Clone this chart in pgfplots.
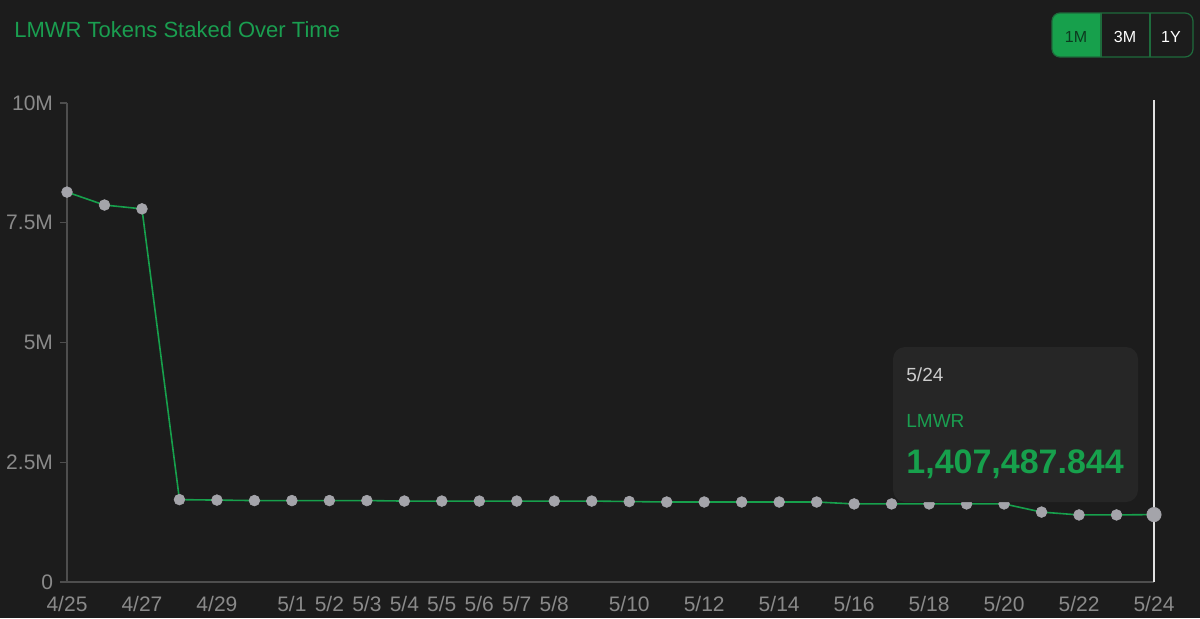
\documentclass[border=0pt]{standalone}
\usepackage{pgfplots}
\pgfplotsset{compat=1.18}
\usepackage{fontspec}
\setmainfont{Liberation Sans}
\definecolor{bg}{HTML}{1C1C1C}
\definecolor{tipbg}{HTML}{262626}
\definecolor{lmgreen}{HTML}{1A9E50}
\definecolor{linegreen}{HTML}{17A04C}
\definecolor{dotgrey}{HTML}{A4A4AA}
\definecolor{axisgrey}{HTML}{4E4E4E}
\definecolor{labelgrey}{HTML}{8A8A8A}
\definecolor{btnborder}{HTML}{1E6B3C}
\definecolor{btntext}{HTML}{0C3A1F}

\begin{document}
\begin{tikzpicture}[x=0.5pt,y=0.5pt]
\fill[bg] (0,0) rectangle (1200,618);
\useasboundingbox (0,0) rectangle (1200,618);

% title
\node[anchor=base west, inner sep=0, text=lmgreen, font=\fontsize{11}{13}\selectfont]
  at (14,581) {LMWR Tokens Staked Over Time};

% range buttons
\begin{scope}
  \clip[rounded corners=4pt] (1052,561) rectangle (1193,605);
  \fill[linegreen] (1052,561) rectangle (1101,605);
\end{scope}
\draw[btnborder, line width=0.6pt, rounded corners=4pt] (1052,561) rectangle (1193,605);
\draw[btnborder, line width=0.6pt] (1101,561) -- (1101,605) (1150,561) -- (1150,605);
\node[anchor=base, inner sep=0, text=btntext, font=\fontsize{8}{10}\selectfont] at (1076,576) {1M};
\node[anchor=base, inner sep=0, text=white, font=\fontsize{8}{10}\selectfont] at (1125,576) {3M};
\node[anchor=base, inner sep=0, text=white, font=\fontsize{8}{10}\selectfont] at (1171,576) {1Y};

\begin{axis}[
  at={(33.5pt,18pt)}, anchor=south west,
  scale only axis, width=543.5pt, height=239.5pt,
  xmin=0, xmax=29, ymin=0, ymax=1e7,
  clip=false,
  axis x line=bottom, axis y line=left,
  axis line style={draw=axisgrey, line width=0.7pt, -},
  xtick={0,2,4,6,7,8,9,10,11,12,13,15,17,19,21,23,25,27,29},
  xticklabels={4/25,4/27,4/29,5/1,5/2,5/3,5/4,5/5,5/6,5/7,5/8,5/10,5/12,5/14,5/16,5/18,5/20,5/22,5/24},
  ytick={0,2.5e6,5e6,7.5e6,1e7},
  yticklabels={0,2.5M,5M,7.5M,10M},
  scaled y ticks=false,
  xtick style={draw=none},
  ytick style={draw=axisgrey, line width=0.6pt},
  tick align=outside, major tick length=3.5pt,
  ticklabel style={text=labelgrey, font=\fontsize{10.5}{12}\selectfont},
  /pgf/number format/assume math mode=true,
]
\draw[white!88!black, line width=0.8pt] (axis cs:29,0) -- (axis cs:29,1.006e7);
\addplot[linegreen, line width=0.8pt, mark=*, mark size=2.7pt,
  mark options={fill=dotgrey, draw=dotgrey, line width=0.3pt}] coordinates {
  (0,8.14e6) (1,7.87e6) (2,7.79e6) (3,1.72e6) (4,1.71e6) (5,1.70e6)
  (6,1.70e6) (7,1.70e6) (8,1.70e6) (9,1.69e6) (10,1.69e6) (11,1.69e6)
  (12,1.69e6) (13,1.69e6) (14,1.69e6) (15,1.68e6) (16,1.67e6) (17,1.67e6)
  (18,1.67e6) (19,1.67e6) (20,1.67e6) (21,1.63e6) (22,1.63e6) (23,1.63e6)
  (24,1.63e6) (25,1.63e6) (26,1.46e6) (27,1.40e6) (28,1.40e6) (29,1.407487844e6)
};
\addplot[only marks, mark=*, mark size=3.6pt, mark options={fill=dotgrey, draw=dotgrey, line width=0.3pt}]
  coordinates {(29,1.407487844e6)};
\end{axis}

% tooltip
\fill[tipbg, rounded corners=6pt] (893,116) rectangle (1138,271);
\node[anchor=base west, inner sep=0, text=white!80!black, font=\fontsize{9.5}{11}\selectfont]
  at (906,237) {5/24};
\node[anchor=base west, inner sep=0, text=lmgreen, font=\fontsize{9.5}{11}\selectfont]
  at (906,191) {LMWR};
\node[anchor=base west, inner sep=0, text=linegreen, font=\bfseries\fontsize{17}{20}\selectfont]
  at (906,145) {1,407,487.844};
\end{tikzpicture}
\end{document}
